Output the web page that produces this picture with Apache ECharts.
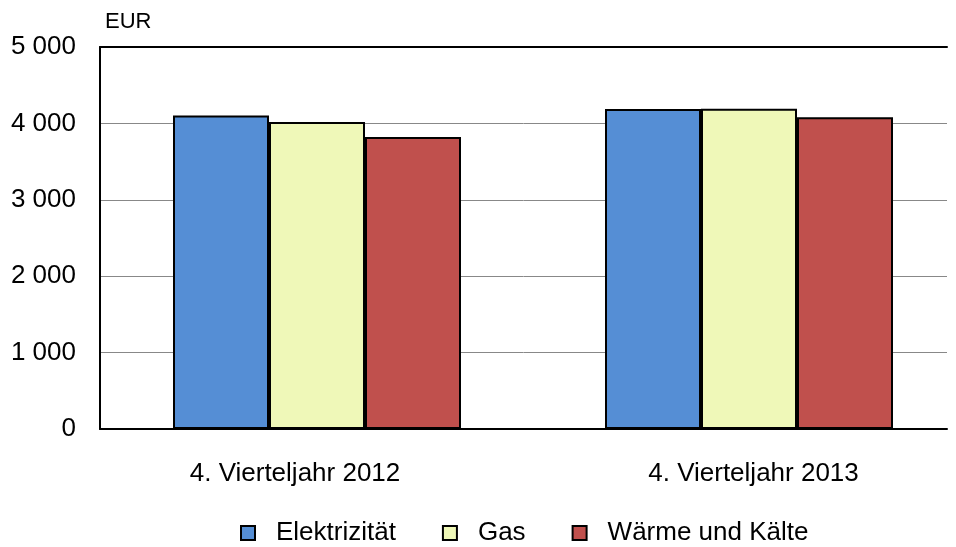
<!DOCTYPE html>
<html><head><meta charset="utf-8">
<script src="https://cdn.jsdelivr.net/npm/echarts@6/dist/echarts.min.js"></script>
<style>html,body{margin:0;padding:0;background:#fff;overflow:hidden;width:956px;height:547px}#c{width:1000px;height:547px}</style>
</head><body><div id="c"></div>
<script>
const categories = ['4. Vierteljahr 2012', '4. Vierteljahr 2013'];
const seriesNames = ['Elektrizität', 'Gas', 'Wärme und Kälte'];
const elektrizitaet = [4105, 4187];
const gas = [4017, 4192];
const waerme = [3821, 4079];
const yTicks = [0, 1000, 2000, 3000, 4000, 5000];
const colors = ['#558ED5', '#EFF8B8', '#C0504D'];

const font = 'Liberation Sans, Arial, sans-serif';
const chart = echarts.init(document.getElementById('c'));
const fmt = v => String(v).replace(/\B(?=(\d{3})+(?!\d))/g, ' ');
const values = [elektrizitaet, gas, waerme];

chart.setOption({
  animation: false,
  textStyle: { fontFamily: font },
  grid: [
    { left: 100, width: 847, top: 47, bottom: 118 },
    { left: 101, width: 864, top: 47, bottom: 118 }
  ],
  legend: {
    left: 240, top: 520, icon: 'rect', padding: 0,
    itemWidth: 14, itemHeight: 14, itemGap: 46,
    textStyle: { fontSize: 26, color: '#000', fontFamily: font, padding: [0, 0, 0, 16] },
    data: seriesNames
  },
  xAxis: [
    { type: 'category', gridIndex: 0, data: categories, position: 'bottom',
      axisLine: { lineStyle: { color: '#000', width: 2 } }, axisTick: { show: false }, axisLabel: { show: false } },
    { type: 'category', gridIndex: 0, data: categories, position: 'top',
      axisLine: { lineStyle: { color: '#000', width: 2 } }, axisTick: { show: false }, axisLabel: { show: false } },
    { type: 'category', gridIndex: 1, data: categories, position: 'bottom',
      axisLine: { show: false }, axisTick: { show: false },
      axisLabel: {
        margin: 32, fontSize: 26, color: '#000', fontFamily: font,
        formatter: (v, i) => i === 0 ? '{a|' + v + '}' : '{b|' + v + '}',
        rich: {
          a: { fontSize: 26, color: '#000', fontFamily: font, padding: [0, 44, 0, 0] },
          b: { fontSize: 26, color: '#000', fontFamily: font, padding: [0, 0, 0, 9] }
        }
      } }
  ],
  yAxis: [
    { type: 'value', gridIndex: 0, min: yTicks[0], max: yTicks[yTicks.length - 1], interval: 1000,
      name: 'EUR', nameLocation: 'end', nameGap: 25,
      nameTextStyle: { fontSize: 22, color: '#000', align: 'left', verticalAlign: 'middle', padding: [0, 0, 0, 5], fontFamily: font },
      axisLine: { show: true, lineStyle: { color: '#000', width: 2 } }, axisTick: { show: false },
      axisLabel: { fontSize: 26, color: '#000', margin: 24, formatter: fmt, fontFamily: font },
      splitLine: { lineStyle: { color: '#888', width: 1 } } },
    { type: 'value', gridIndex: 1, min: yTicks[0], max: yTicks[yTicks.length - 1], interval: 1000, show: false }
  ],
  series: seriesNames.map((n, i) => ({
    name: n, type: 'bar', xAxisIndex: 2, yAxisIndex: 1,
    data: values[i], barWidth: 96, barGap: '0%',
    itemStyle: { color: colors[i], borderColor: '#000', borderWidth: 2 }
  }))
});
</script></body></html>
